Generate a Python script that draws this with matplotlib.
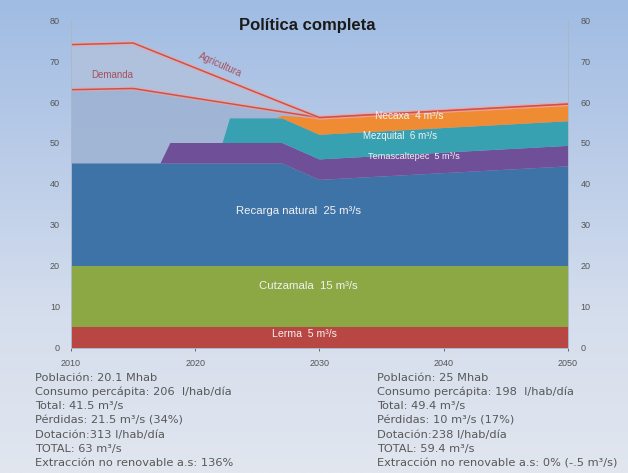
import numpy as np
import matplotlib
matplotlib.use("Agg")
import matplotlib.pyplot as plt
import matplotlib.patheffects as pe
from matplotlib.colors import LinearSegmentedColormap

plt.rcParams['font.family'] = ['Liberation Sans', 'DejaVu Sans']

# ---------------- data (m3/s) ----------------
years = [2010, 2017.2, 2018, 2022.2, 2022.8, 2026.5, 2027, 2030, 2050]
lerma = [5, 5, 5, 5, 5, 5, 5, 5, 5]
cutzamala = [15, 15, 15, 15, 15, 15, 15, 15, 15]
recarga = [25, 25, 25, 25, 25, 25, 25, 21, 24.3]
temascaltepec = [0, 0, 5, 5, 5, 5, 5, 5, 5]
mezquital = [0, 0, 0, 0, 6, 6, 6, 6, 6]
necaxa = [0, 0, 0, 0, 0, 0, 0.6, 4, 4]

dem_years = [2010, 2015, 2027, 2030, 2050]
demanda = [63, 63.3, 57.6, 56.2, 59.5]
agricultura = [74, 74.4, 59.8, 56.2, 59.5]

x_ticks = [2010, 2020, 2030, 2040, 2050]
y_ticks = [0, 10, 20, 30, 40, 50, 60, 70, 80]

left_text = ["Población: 20.1 Mhab",
             "Consumo percápita: 206  l/hab/día",
             "Total: 41.5 m³/s",
             "Pérdidas: 21.5 m³/s (34%)",
             "Dotación:313 l/hab/día",
             "TOTAL: 63 m³/s",
             "Extracción no renovable a.s: 136%"]
right_text = ["Población: 25 Mhab",
              "Consumo percápita: 198  l/hab/día",
              "Total: 49.4 m³/s",
              "Pérdidas: 10 m³/s (17%)",
              "Dotación:238 l/hab/día",
              "TOTAL: 59.4 m³/s",
              "Extracción no renovable a.s: 0% (-.5 m³/s)"]

colors = ['#b84743', '#8ca845', '#3e73a8', '#6f4f97', '#37a0b1', '#ef8b32']

fig = plt.figure(figsize=(6.28, 4.73), dpi=100)

# background gradient (slide look)
bg = fig.add_axes([0, 0, 1, 1], zorder=-1)
grad = LinearSegmentedColormap.from_list('bg', ['#a0bce3', '#bacce8', '#d5deed', '#e1e6ef'])
bg.imshow(np.linspace(0, 1, 256).reshape(-1, 1), cmap=grad, aspect='auto', extent=[0, 1, 0, 1])
bg.axis('off')

ax = fig.add_axes([0.113, 0.2643, 0.7915, 0.6934])
ax.set_facecolor('none')

# demand areas
ax.fill_between(dem_years, 0, demanda, color='#9cb0d1', alpha=0.8, lw=0, zorder=1)
ax.fill_between(dem_years, demanda, agricultura, color='#b0c1dd', alpha=0.9, lw=0, zorder=1)

ax.stackplot(years, lerma, cutzamala, recarga, temascaltepec, mezquital, necaxa,
             colors=colors, lw=0, zorder=2)

glow = [pe.Stroke(linewidth=3.0, foreground='#eba7a3', alpha=0.6), pe.Normal()]
ax.plot(dem_years, demanda, color='#d35048', lw=1.1, zorder=3, path_effects=glow)
ax.plot(dem_years, agricultura, color='#d35048', lw=1.1, zorder=3, path_effects=glow)

# labels
ax.text(2013.3, 66.6, "Demanda", color='#a8505e', fontsize=7, ha='center', va='center')
ax.text(2022, 69, "Agricultura", color='#a8505e', fontsize=7, ha='center', va='center', rotation=-24)

lbl = dict(color='#f2f2f2', ha='center', va='center', zorder=4)
ax.text(2037.2, 56.5, "Necaxa  4 m³/s", fontsize=7.3, **lbl)
ax.text(2036.5, 51.6, "Mezquital  6 m³/s", fontsize=7, **lbl)
ax.text(2037.6, 46.6, "Temascaltepec  5 m³/s", fontsize=6.6, **lbl)
ax.text(2028.3, 33.4, "Recarga natural  25 m³/s", fontsize=8.2, **lbl)
ax.text(2029.1, 15.1, "Cutzamala  15 m³/s", fontsize=8.2, **lbl)
ax.text(2028.8, 3.4, "Lerma  5 m³/s", fontsize=7.6, **lbl)

fig.text(0.49, 0.947, "Política completa", fontsize=12, fontweight='bold',
         color='#1a1a1a', ha='center', va='center')

ax.set_xlim(2010, 2050)
ax.set_ylim(0, 80)
ax.set_xticks(x_ticks)
ax.set_yticks(y_ticks)
ax.tick_params(axis='both', labelsize=6.5, colors='#555555', length=2, width=0.6)
ax.tick_params(axis='y', length=0, pad=8)
ax.tick_params(axis='x', pad=6)

ax2 = ax.twinx()
ax2.set_ylim(0, 80)
ax2.set_yticks(y_ticks)
ax2.tick_params(axis='y', labelsize=6.5, colors='#555555', length=0, pad=9)

for a in (ax, ax2):
    a.spines['top'].set_visible(False)
    for s in ('left', 'right', 'bottom'):
        a.spines[s].set_color('#a9b8cc')
        a.spines[s].set_linewidth(0.7)

# bottom notes
for i, (l, r) in enumerate(zip(left_text, right_text)):
    y = (473 - 378 - i * 14.2) / 473
    fig.text(35 / 628, y, l, fontsize=8.2, family='DejaVu Sans', color='#585858', va='center', ha='left')
    fig.text(377 / 628, y, r, fontsize=8.2, family='DejaVu Sans', color='#585858', va='center', ha='left')

fig.savefig("out.png", dpi=100)
